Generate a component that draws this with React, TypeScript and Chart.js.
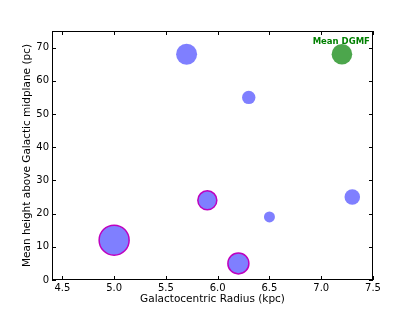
import React, { useEffect, useRef } from "react";
import { Chart, registerables } from "chart.js";

Chart.register(...registerables);

const radius = [5.0, 5.7, 5.9, 6.2, 6.3, 6.5, 7.3];
const height = [12, 68, 24, 5, 55, 19, 25];
const sizes = [15, 10.5, 9.5, 10.5, 6.7, 5.5, 7.8];
const edged = [true, false, true, true, false, false, false];
const meanRadius = [7.2];
const meanHeight = [68];
const meanSize = [10.3];
const xTicks = [4.5, 5.0, 5.5, 6.0, 6.5, 7.0, 7.5];
const yTicks = [0, 10, 20, 30, 40, 50, 60, 70];

const FONT = "'DejaVu Sans', sans-serif";

const insideTicks = {
  id: "insideTicks",
  afterDatasetsDraw(chart: any) {
    const { ctx, chartArea: a, scales } = chart;
    const x = scales.x;
    const y = scales.y;
    ctx.save();
    ctx.strokeStyle = "#000";
    ctx.lineWidth = 1;
    ctx.beginPath();
    const L = 4;
    xTicks.forEach((v) => {
      const px = Math.round(x.getPixelForValue(v)) + 0.5;
      ctx.moveTo(px, a.bottom);
      ctx.lineTo(px, a.bottom - L);
      ctx.moveTo(px, a.top);
      ctx.lineTo(px, a.top + L);
    });
    yTicks.forEach((v) => {
      const py = Math.round(y.getPixelForValue(v)) + 0.5;
      ctx.moveTo(a.left, py);
      ctx.lineTo(a.left + L, py);
      ctx.moveTo(a.right, py);
      ctx.lineTo(a.right - L, py);
    });
    ctx.stroke();
    ctx.lineWidth = 1;
    ctx.strokeRect(a.left + 0.5, a.top + 0.5, a.right - a.left - 1, a.bottom - a.top - 1);
    ctx.fillStyle = "#008000";
    ctx.font = "bold 8.5px " + FONT;
    ctx.textAlign = "right";
    ctx.textBaseline = "alphabetic";
    ctx.fillText("Mean DGMF", x.getPixelForValue(7.47), y.getPixelForValue(71.2));
    ctx.restore();
  },
};

export default function App() {
  const ref = useRef<HTMLCanvasElement>(null);
  useEffect(() => {
    document.body.style.margin = "0";
    const chart = new Chart(ref.current!, {
      type: "bubble",
      data: {
        datasets: [
          {
            data: radius.map((r, i) => ({ x: r, y: height[i], r: sizes[i] })),
            backgroundColor: "rgba(0,0,255,0.5)",
            borderColor: edged.map((e) => (e ? "#bf00bf" : "rgba(0,0,0,0)")),
            borderWidth: edged.map((e) => (e ? 1.5 : 0)),
            hoverRadius: 0,
          },
          {
            data: meanRadius.map((r, i) => ({ x: r, y: meanHeight[i], r: meanSize[i] })),
            backgroundColor: "rgba(0,128,0,0.7)",
            borderWidth: 0,
            hoverRadius: 0,
          },
        ],
      },
      options: {
        animation: false,
        responsive: false,
        layout: { padding: { left: 0, top: 31, right: 42, bottom: 0 } },
        plugins: { legend: { display: false }, tooltip: { enabled: false } },
        scales: {
          x: {
            type: "linear",
            min: 4.4,
            max: 7.5,
            afterFit: (s: any) => {
              s.height = 32;
            },
            afterBuildTicks: (s: any) => {
              s.ticks = xTicks.map((v) => ({ value: v }));
            },
            grid: { display: false, drawTicks: false },
            border: { display: false },
            ticks: {
              color: "#000",
              padding: 2,
              font: { family: FONT, size: 10 },
              callback: (v: any) => Number(v).toFixed(1),
            },
            title: {
              display: true,
              text: "Galactocentric Radius (kpc)",
              color: "#000",
              font: { family: FONT, size: 10.5 },
              padding: { top: 0, bottom: 6 },
            },
          },
          y: {
            type: "linear",
            min: 0,
            max: 75,
            afterFit: (s: any) => {
              s.width = 52;
            },
            afterBuildTicks: (s: any) => {
              s.ticks = yTicks.map((v) => ({ value: v }));
            },
            grid: { display: false, drawTicks: false },
            border: { display: false },
            ticks: {
              color: "#000",
              padding: 3,
              font: { family: FONT, size: 10 },
            },
            title: {
              display: true,
              text: "Mean height above Galactic midplane (pc)",
              color: "#000",
              font: { family: FONT, size: 10.5 },
              padding: { top: 21, bottom: 0 },
            },
          },
        },
      },
      plugins: [insideTicks],
    });
    return () => chart.destroy();
  }, []);
  return <canvas ref={ref} width={415} height={312} style={{ display: "block" }} />;
}
